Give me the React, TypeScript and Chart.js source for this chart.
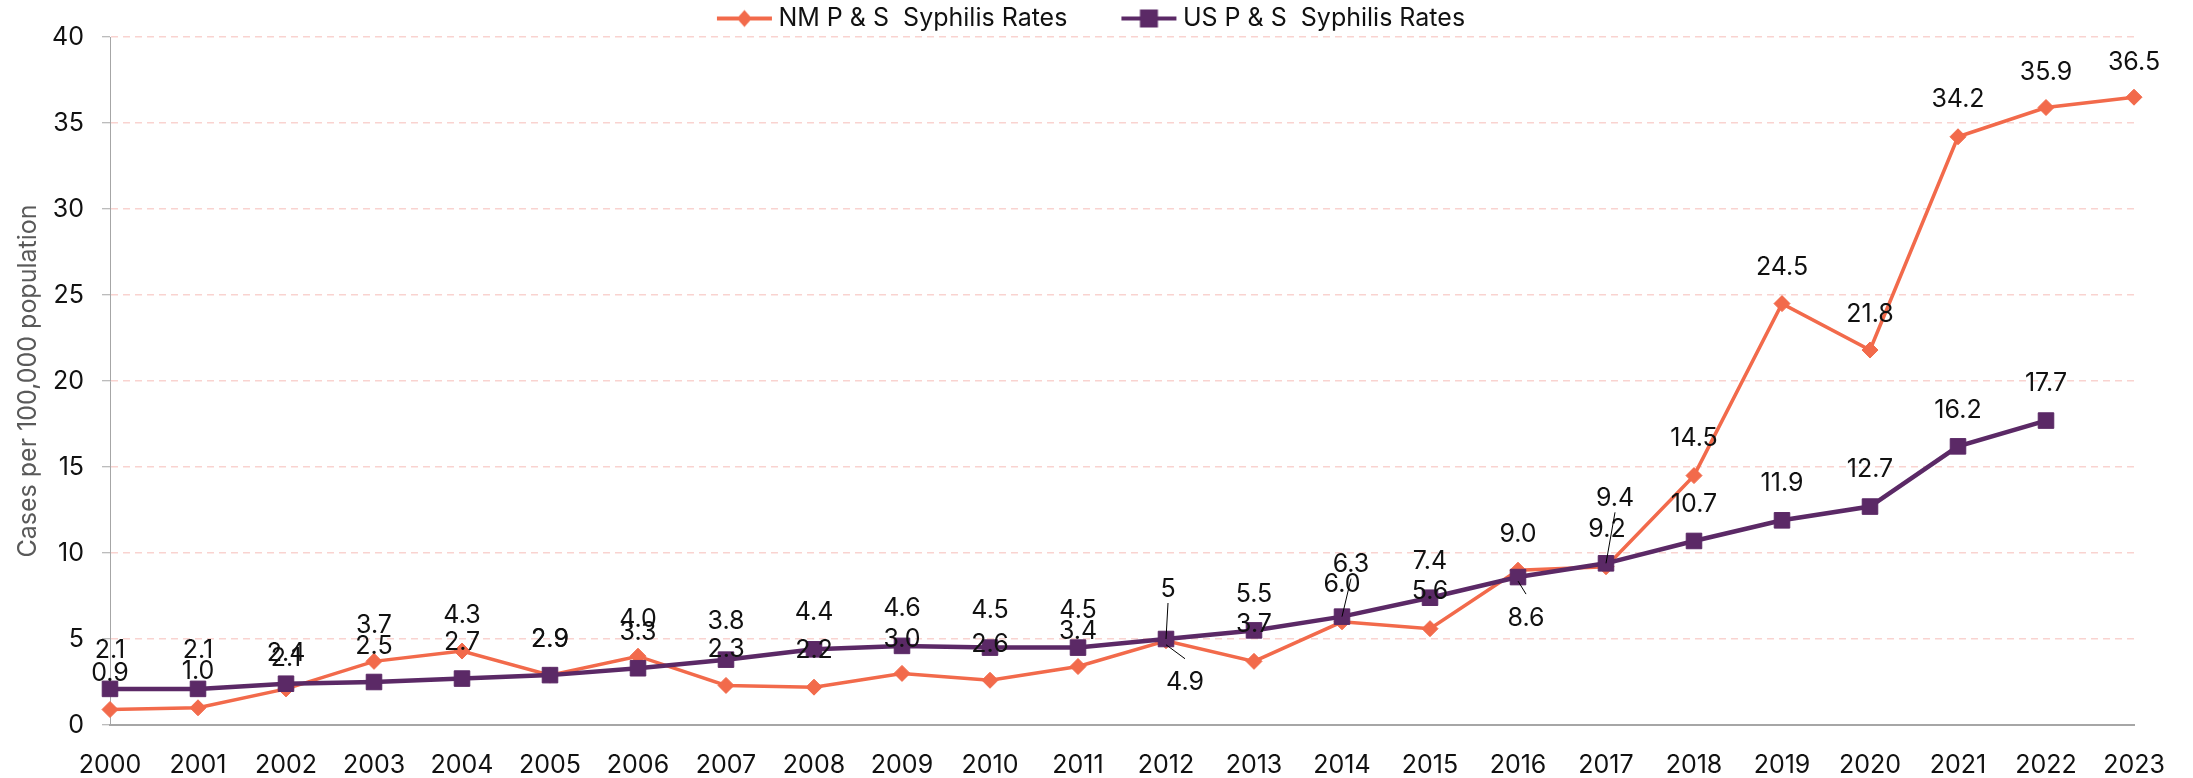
import React, { useEffect, useRef } from 'react';
import { Chart, registerables } from 'chart.js';

Chart.register(...registerables);

// ---------- data ----------
const years = ['2000', '2001', '2002', '2003', '2004', '2005', '2006', '2007', '2008', '2009', '2010', '2011',
  '2012', '2013', '2014', '2015', '2016', '2017', '2018', '2019', '2020', '2021', '2022', '2023'];
const nmRates = [0.9, 1.0, 2.1, 3.7, 4.3, 2.9, 4.0, 2.3, 2.2, 3.0, 2.6, 3.4,
  4.9, 3.7, 6.0, 5.6, 9.0, 9.2, 14.5, 24.5, 21.8, 34.2, 35.9, 36.5];
const usRates = [2.1, 2.1, 2.4, 2.5, 2.7, 2.9, 3.3, 3.8, 4.4, 4.6, 4.5, 4.5,
  5, 5.5, 6.3, 7.4, 8.6, 9.4, 10.7, 11.9, 12.7, 16.2, 17.7, null];
const seriesNames = ['NM P & S  Syphilis Rates', 'US P & S  Syphilis Rates'];
const yAxisTitle = 'Cases per 100,000 population';
const yMin = 0;
const yMax = 40;
const yStep = 5;

// ---------- label placement (pixel offsets from each point) ----------
const nmLabelDx = [0, 0, 0, 0, 0, 0, 0, 0, 0, 0, 0, 0, 19, 0, 0, 0, 0, 1, 0, 0, 0, 0, 0, 0];
const nmLabelDy = [-36, -36, -30, -36, -36, -36, -37, -36, -37, -34, -36, -35, 42, -37, -37, -37, -36, -37, -37, -36, -36, -37, -35, -35];
const nmLeader = [0, 0, 0, 0, 0, 0, 0, 0, 0, 0, 0, 0, 1, 0, 0, 0, 0, 0, 0, 0, 0, 0, 0, 0];
const usLabelDx = [0, 0, 0, 0, 0, 0, 0, 0, 0, 0, 0, 0, 2, 0, 9, 0, 8, 9, 0, 0, 0, 0, 0, 0];
const usLabelDy = [-38, -38, -30, -36, -36, -36, -36, -38, -37, -37, -37, -37, -50, -36, -52, -36, 41, -65, -36, -37, -37, -36, -37, 0];
const usLeader = [0, 0, 0, 0, 0, 0, 0, 0, 0, 0, 0, 0, 1, 0, 1, 0, 1, 1, 0, 0, 0, 0, 0, 0];

// ---------- styles ----------
const NM_COLOR = '#F26A4B';
const US_COLOR = '#5B2966';
const GRID_COLOR = '#F9D3D0';
const AXIS_COLOR = '#A6A6A6';
const TEXT_COLOR = '#111111';
const FONT = 'Inter';

const nmFormat = (v: number) => v.toFixed(1);
const usFormat = (v: number) => (Number.isInteger(v) ? String(v) : v.toFixed(1));

// legend swatch: box is 97 wide, image is 111 wide (centered on box, so it reaches 7px past each side)
function legendSwatch(color: string, style: 'diamond' | 'square') {
  const c = document.createElement('canvas');
  c.width = 111;
  c.height = 24;
  const ctx = c.getContext('2d')!;
  ctx.strokeStyle = color;
  ctx.fillStyle = color;
  ctx.lineWidth = 4;
  ctx.beginPath();
  ctx.moveTo(55, 12);
  ctx.lineTo(110, 12);
  ctx.stroke();
  const cx = 82.5;
  ctx.beginPath();
  if (style === 'diamond') {
    ctx.moveTo(cx, 3.5);
    ctx.lineTo(cx + 7.5, 12);
    ctx.lineTo(cx, 20.5);
    ctx.lineTo(cx - 7.5, 12);
    ctx.closePath();
  } else {
    ctx.rect(cx - 9, 3, 18, 18);
  }
  ctx.fill();
  return c;
}

const legendHeightPlugin = {
  id: 'legendHeight',
  beforeInit(chart: any) {
    const legend = chart.legend;
    if (!legend) return;
    const origFit = legend.fit;
    legend.fit = function () {
      origFit.call(this);
      this.height = 37;
    };
  },
};

const dataLabelPlugin = {
  id: 'dataLabels',
  afterDatasetsDraw(chart: any) {
    const ctx = chart.ctx;
    const configs = [
      { values: nmRates, dx: nmLabelDx, dy: nmLabelDy, leader: nmLeader, fmt: nmFormat },
      { values: usRates, dx: usLabelDx, dy: usLabelDy, leader: usLeader, fmt: usFormat },
    ];
    ctx.save();
    ctx.font = `400 25px ${FONT}`;
    ctx.fillStyle = TEXT_COLOR;
    ctx.textAlign = 'center';
    ctx.textBaseline = 'middle';
    configs.forEach((cfg, di) => {
      const meta = chart.getDatasetMeta(di);
      meta.data.forEach((pt: any, i: number) => {
        const v = cfg.values[i];
        if (v === null || v === undefined) return;
        const lx = pt.x + cfg.dx[i];
        const ly = pt.y + cfg.dy[i];
        if (cfg.leader[i]) {
          const below = cfg.dy[i] > 0;
          ctx.save();
          ctx.strokeStyle = '#000000';
          ctx.lineWidth = 1;
          ctx.beginPath();
          ctx.moveTo(lx, below ? ly - 24 : ly + 14);
          ctx.lineTo(pt.x, pt.y + (below ? 4 : 0));
          ctx.stroke();
          ctx.restore();
        }
        ctx.fillText(cfg.fmt(v as number), lx, ly);
      });
    });
    ctx.restore();
  },
};

export default function App() {
  const canvasRef = useRef<HTMLCanvasElement | null>(null);

  useEffect(() => {
    if (!canvasRef.current) return;
    const swatches = [legendSwatch(NM_COLOR, 'diamond'), legendSwatch(US_COLOR, 'square')];
    const chart = new Chart(canvasRef.current, {
      type: 'line',
      data: {
        labels: years,
        datasets: [
          {
            label: seriesNames[0],
            data: nmRates,
            borderColor: NM_COLOR,
            backgroundColor: NM_COLOR,
            borderWidth: 3.5,
            pointStyle: 'rectRot',
            pointRadius: 8,
            pointBorderWidth: 1,
            pointBackgroundColor: NM_COLOR,
            pointBorderColor: NM_COLOR,
            tension: 0,
            clip: false,
            order: 2,
          },
          {
            label: seriesNames[1],
            data: usRates,
            borderColor: US_COLOR,
            backgroundColor: US_COLOR,
            borderWidth: 4.5,
            pointStyle: 'rect',
            pointRadius: 11,
            pointBorderWidth: 1,
            pointBackgroundColor: US_COLOR,
            pointBorderColor: US_COLOR,
            tension: 0,
            clip: false,
            spanGaps: false,
            order: 1,
          },
        ],
      },
      options: {
        responsive: false,
        animation: false,
        events: [],
        layout: { padding: { left: 0, right: 59, top: 0, bottom: 0 } },
        plugins: {
          tooltip: { enabled: false },
          legend: {
            display: true,
            position: 'top',
            labels: {
              usePointStyle: true,
              pointStyleWidth: 97,
              padding: 6,
              color: TEXT_COLOR,
              font: { family: FONT, size: 25 },
              sort: (a: any, b: any) => a.datasetIndex - b.datasetIndex,
              generateLabels: (chart: any) => {
                const items = Chart.defaults.plugins.legend.labels.generateLabels(chart);
                return items.map((it: any) => ({ ...it, pointStyle: swatches[it.datasetIndex] }));
              },
            },
          },
        },
        scales: {
          x: {
            type: 'category',
            offset: false,
            grid: { display: false, drawTicks: false },
            border: { display: true, color: AXIS_COLOR, width: 2 },
            ticks: {
              color: TEXT_COLOR,
              font: { family: FONT, size: 25 },
              padding: 25,
              maxRotation: 0,
              autoSkip: false,
            },
            afterFit: (scale: any) => {
              scale.height = 53;
            },
          },
          y: {
            min: yMin,
            max: yMax,
            ticks: {
              stepSize: yStep,
              color: TEXT_COLOR,
              font: { family: FONT, size: 25 },
              padding: 18,
            },
            grid: {
              color: GRID_COLOR,
              lineWidth: 1.5,
              drawTicks: true,
              tickLength: 8,
              tickColor: AXIS_COLOR,
              tickWidth: 1,
            },
            border: { display: true, color: AXIS_COLOR, width: 1, dash: [7, 5] },
            title: {
              display: true,
              text: yAxisTitle,
              color: '#595959',
              font: { family: FONT, size: 25 },
              padding: { top: 13, bottom: 0 },
            },
            afterFit: (scale: any) => {
              scale.width = 110;
            },
          },
        },
      },
      plugins: [legendHeightPlugin, dataLabelPlugin],
    } as any);
    return () => chart.destroy();
  }, []);

  return (
    <div style={{ position: 'absolute', left: 0, top: 0, width: 2193, height: 778, background: '#ffffff' }}>
      <canvas ref={canvasRef} width={2193} height={778} style={{ display: 'block' }} />
    </div>
  );
}
